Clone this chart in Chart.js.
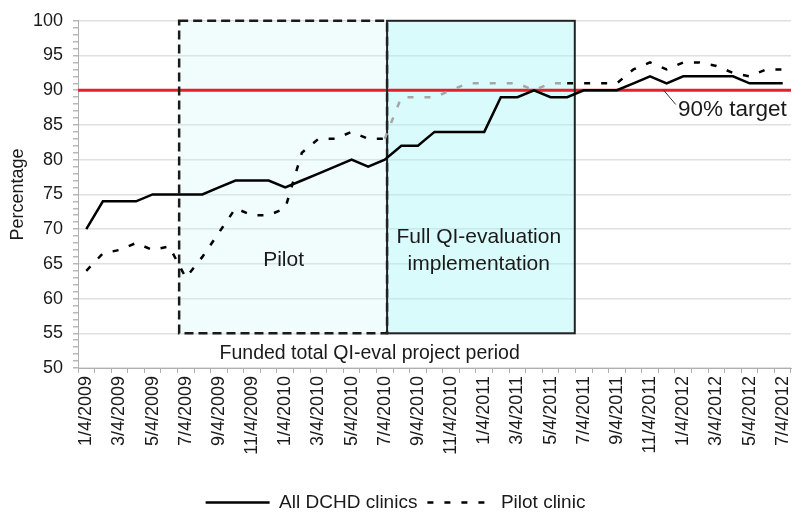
<!DOCTYPE html>
<html>
<head>
<meta charset="utf-8">
<script src="https://cdn.jsdelivr.net/npm/chart.js@4.4.0/dist/chart.umd.min.js"></script>
<style>
  html, body { margin: 0; padding: 0; background: #ffffff; }
  #wrap { width: 795px; height: 513px; position: relative; }
</style>
</head>
<body>
<div id="wrap"><canvas id="chart" width="795" height="513"></canvas></div>
<script>
// ---------------- data ----------------
const categories = [
  '1/4/2009','2/4/2009','3/4/2009','4/4/2009','5/4/2009','6/4/2009','7/4/2009','8/4/2009','9/4/2009','10/4/2009','11/4/2009','12/4/2009',
  '1/4/2010','2/4/2010','3/4/2010','4/4/2010','5/4/2010','6/4/2010','7/4/2010','8/4/2010','9/4/2010','10/4/2010','11/4/2010','12/4/2010',
  '1/4/2011','2/4/2011','3/4/2011','4/4/2011','5/4/2011','6/4/2011','7/4/2011','8/4/2011','9/4/2011','10/4/2011','11/4/2011','12/4/2011',
  '1/4/2012','2/4/2012','3/4/2012','4/4/2012','5/4/2012','6/4/2012','7/4/2012'
];
const allClinics = [
  70, 74, 74, 74, 75, 75, 75, 75, 76, 77, 77, 77,
  76, 77, 78, 79, 80, 79, 80, 82, 82, 84, 84, 84,
  84, 89, 89, 90, 89, 89, 90, 90, 90, 91, 92, 91,
  92, 92, 92, 92, 91, 91, 91
];
const pilotClinic = [
  64, 66.5, 67, 68, 67, 67.5, 63, 66, 69.5, 73, 72, 72,
  73, 81, 83, 83, 84, 83, 83, 89, 89, 89, 90, 91,
  91, 91, 91, 90, 91, 91, 91, 91, 91, 93, 94, 93,
  94, 94, 93.5, 92.5, 92, 93, 93
];
const seriesNames = ['All DCHD clinics', 'Pilot clinic'];
const yMin = 50, yMax = 100, yMajorStep = 5, yMinorStep = 1;
const targetValue = 90;
const targetLabel = '90% target';
const pilotText = 'Pilot';
const fullText = ['Full QI-evaluation', 'implementation'];
const fundedText = 'Funded total QI-eval project period';
// phases (in category-index / value units)
const pilotPhase = { from: 5.6, to: 18.14, low: 55, high: 100 };
const fullPhase = { from: 18.14, to: 29.46, low: 55, high: 100 };

// ---------------- drawing helpers ----------------
const FONT = '"Liberation Sans", Arial, sans-serif';
const TXT = '#1a1a1a';

const phasePlugin = {
  id: 'phases',
  beforeDatasetsDraw(chart) {
    const { ctx, chartArea, scales: { x, y } } = chart;
    ctx.save();
    const px0 = x.getPixelForValue(pilotPhase.from), px1 = x.getPixelForValue(pilotPhase.to);
    const py0 = y.getPixelForValue(pilotPhase.high), py1 = y.getPixelForValue(pilotPhase.low);
    ctx.fillStyle = 'rgba(200,245,245,0.25)';
    ctx.fillRect(px0, py0, px1 - px0, py1 - py0);
    const fx0 = x.getPixelForValue(fullPhase.from), fx1 = x.getPixelForValue(fullPhase.to);
    const fy0 = y.getPixelForValue(fullPhase.high), fy1 = y.getPixelForValue(fullPhase.low);
    ctx.fillStyle = 'rgba(170,245,245,0.43)';
    ctx.fillRect(fx0, fy0, fx1 - fx0, fy1 - fy0);
    const ty = y.getPixelForValue(targetValue);
    ctx.strokeStyle = '#e5202a';
    ctx.lineWidth = 3;
    ctx.beginPath();
    ctx.moveTo(chartArea.left, ty);
    ctx.lineTo(chartArea.right, ty);
    ctx.stroke();
    ctx.strokeStyle = '#1a1a1a';
    ctx.lineWidth = 2.5;
    ctx.setLineDash([9, 5]);
    ctx.strokeRect(px0, py0, px1 - px0, py1 - py0);
    ctx.setLineDash([]);
    ctx.lineWidth = 2;
    ctx.strokeStyle = '#222';
    ctx.strokeRect(fx0, fy0, fx1 - fx0, fy1 - fy0);
    ctx.restore();
  },
  afterDatasetsDraw(chart) {
    const { ctx, scales: { x, y } } = chart;
    ctx.save();
    ctx.fillStyle = TXT;
    ctx.textAlign = 'center';
    ctx.textBaseline = 'alphabetic';
    ctx.font = '21px ' + FONT;
    ctx.fillText(pilotText, x.getPixelForValue(11.9), y.getPixelForValue(64.76));
    ctx.fillText(fullText[0], x.getPixelForValue(23.67), y.getPixelForValue(67.95));
    ctx.fillText(fullText[1], x.getPixelForValue(23.67), y.getPixelForValue(64.14));
    ctx.font = '19.5px ' + FONT;
    ctx.fillText(fundedText, x.getPixelForValue(17.09), y.getPixelForValue(51.25));
    ctx.font = '22.5px ' + FONT;
    ctx.fillText(targetLabel, x.getPixelForValue(38.96), y.getPixelForValue(86.25));
    ctx.strokeStyle = '#333';
    ctx.lineWidth = 1;
    ctx.beginPath();
    ctx.moveTo(x.getPixelForValue(34.82), y.getPixelForValue(targetValue));
    ctx.lineTo(x.getPixelForValue(35.55), y.getPixelForValue(87.95));
    ctx.stroke();
    ctx.restore();
  }
};

const greyFrom = 18, greyTo = 29;

new Chart(document.getElementById('chart'), {
  type: 'line',
  data: {
    labels: categories,
    datasets: [
      {
        label: seriesNames[0],
        data: allClinics,
        borderColor: '#000',
        backgroundColor: '#000',
        borderWidth: 2.5,
        pointRadius: 0,
        tension: 0,
        fill: false
      },
      {
        label: seriesNames[1],
        data: pilotClinic,
        borderColor: '#000',
        backgroundColor: '#000',
        borderWidth: 2.5,
        borderDash: [6, 11],
        pointRadius: 0,
        tension: 0,
        fill: false,
        segment: {
          borderColor: c => (c.p0DataIndex >= greyFrom && c.p0DataIndex < greyTo) ? '#a6a6a6' : undefined
        }
      }
    ]
  },
  options: {
    responsive: false,
    animation: false,
    devicePixelRatio: 1,
    layout: { padding: { top: 19, right: 4, left: 0, bottom: -9 } },
    plugins: {
      legend: {
        position: 'bottom',
        labels: {
          usePointStyle: true,
          pointStyle: 'line',
          pointStyleWidth: 64,
          boxHeight: 19,
          padding: 10,
          color: TXT,
          font: { family: FONT, size: 19 },
          generateLabels: chart => {
            const items = Chart.defaults.plugins.legend.labels.generateLabels(chart);
            items.forEach(it => {
              const ds = chart.data.datasets[it.datasetIndex];
              it.lineDash = ds.borderDash || [];
              it.lineWidth = 2.5;
              it.strokeStyle = '#000';
              it.pointStyle = 'line';
            });
            return items;
          }
        }
      },
      tooltip: { enabled: false }
    },
    scales: {
      x: {
        type: 'category',
        offset: true,
        afterFit: s => { s.height = 115; s.paddingLeft = 0; s.paddingRight = 0; },
        grid: { drawOnChartArea: false, offset: true, tickLength: 5, tickColor: '#b0b0b0' },
        border: { color: '#b0b0b0', width: 1 },
        ticks: {
          autoSkip: false,
          maxRotation: 90,
          minRotation: 90,
          padding: 3,
          color: TXT,
          font: { family: FONT, size: 18 },
          callback: function (v, i) { return i % 2 === 0 ? this.getLabelForValue(v) : ''; }
        }
      },
      y: {
        min: yMin,
        max: yMax,
        afterFit: s => { s.width = 78; },
        title: {
          display: true,
          text: 'Percentage',
          color: TXT,
          font: { family: FONT, size: 18 },
          padding: { top: 7.5, bottom: 0 }
        },
        grid: {
          color: c => (c.tick && c.tick.value % yMajorStep === 0) ? '#e0e0e0' : 'rgba(0,0,0,0)',
          tickColor: '#b8b8b8',
          tickLength: 5,
          lineWidth: 1.5
        },
        border: { color: '#b0b0b0', width: 1 },
        ticks: {
          stepSize: yMinorStep,
          autoSkip: false,
          padding: 10,
          color: TXT,
          font: { family: FONT, size: 18 },
          callback: v => (v % yMajorStep === 0 ? String(v) : '')
        }
      }
    }
  },
  plugins: [phasePlugin]
});
</script>
</body>
</html>
